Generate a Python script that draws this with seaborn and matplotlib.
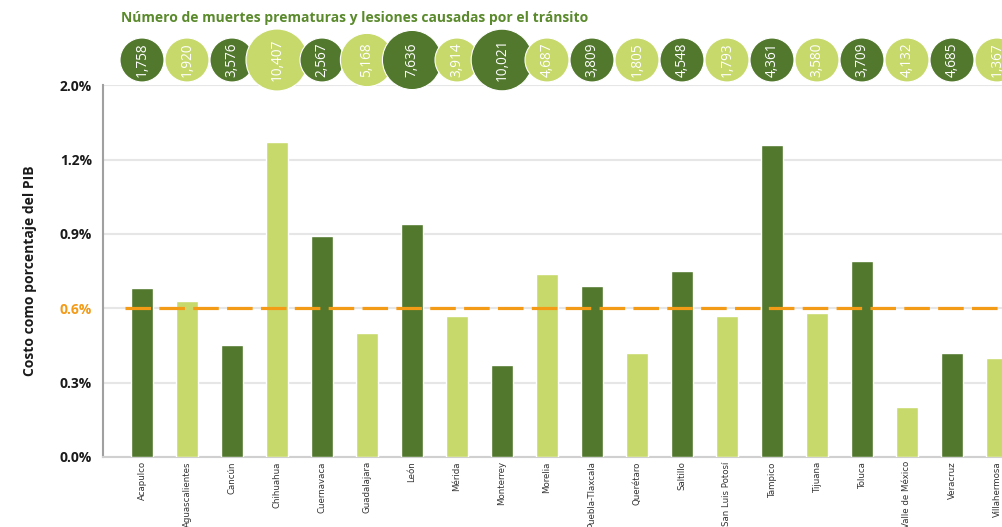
import numpy as np
import pandas as pd
import matplotlib
matplotlib.use("Agg")
import matplotlib.pyplot as plt
import matplotlib.colors as mcolors
from matplotlib.ticker import FixedLocator, FuncFormatter
import seaborn as sns

# ---------------- data ----------------
cities = ["Acapulco", "Aguascalientes", "Cancún", "Chihuahua", "Cuernavaca",
          "Guadalajara", "León", "Mérida", "Monterrey", "Morelia",
          "Puebla-Tlaxcala", "Querétaro", "Saltillo", "San Luis Potosí",
          "Tampico", "Tijuana", "Toluca", "Valle de México", "Veracruz",
          "Villahermosa"]
costo_pib = [0.68, 0.63, 0.45, 1.27, 0.89, 0.50, 0.94, 0.57, 0.37, 0.74,
             0.69, 0.42, 0.75, 0.57, 1.26, 0.58, 0.79, 0.20, 0.42, 0.40]
victimas = [1758, 1920, 3576, 10407, 2567, 5168, 7636, 3914, 10021, 4687,
            3809, 1805, 4548, 1793, 4361, 3580, 3709, 4132, 4685, 1367]
promedio = 0.6
y_ticks = [0.0, 0.3, 0.6, 0.9, 1.2, 2.0]
title = "Número de muertes prematuras y lesiones causadas por el tránsito"
ylabel = "Costo como porcentaje del PIB"

# ---------------- style ----------------
DARK = "#52782d"
LIGHT = "#c8d96c"
ORANGE = "#f39a16"
palette = [DARK if i % 2 == 0 else LIGHT for i in range(len(cities))]

sns.set_style("white")
plt.rcParams["font.family"] = ["Open Sans", "DejaVu Sans"]

W, H = 1003, 527
fig = plt.figure(figsize=(W / 100, H / 100), dpi=100)

# axes geometry (pixels)
left_px, bottom_px, top_px = 103, 457, 85.3
cat0_px, step_px = 142, 45.0
xmin = -(cat0_px - left_px) / step_px
xmax = 19.6
right_px = cat0_px + step_px * xmax
ax = fig.add_axes([left_px / W, 1 - bottom_px / H,
                   (right_px - left_px) / W, (bottom_px - top_px) / H])

df = pd.DataFrame({"ciudad": cities, "costo": costo_pib, "victimas": victimas})

sns.barplot(data=df, x="ciudad", y="costo", hue="ciudad", palette=palette,
            legend=False, width=0.49, saturation=1, ax=ax, zorder=3)

# axis linear up to 1.3, compressed above (top tick 2.0%)
BRK, FAC = 1.3, 0.2 / 0.7

def fwd(y):
    y = np.asarray(y, dtype=float)
    return np.where(y <= BRK, y, BRK + (y - BRK) * FAC)

def inv(t):
    t = np.asarray(t, dtype=float)
    return np.where(t <= BRK, t, BRK + (t - BRK) / FAC)

ax.set_yscale("function", functions=(fwd, inv))
ax.set_ylim(0, 2.0)
ax.set_xlim(xmin, xmax)
ax.yaxis.set_major_locator(FixedLocator(y_ticks))
ax.yaxis.set_minor_locator(FixedLocator([]))
ax.yaxis.set_major_formatter(FuncFormatter(lambda v, p: f"{v:.1f}%"))

ax.grid(axis="y", color="#e6e6e6", linewidth=1.5, zorder=0)
ax.set_axisbelow(True)
ax.tick_params(axis="y", direction="in", length=15.8, width=1.5, color="#a0a0a0",
               pad=8, labelsize=10, labelcolor="#1a1a1a")
for lab in ax.get_yticklabels():
    lab.set_fontweight("bold")
ax.get_yticklabels()[2].set_color(ORANGE)

ax.tick_params(axis="x", length=0, pad=3, labelsize=6.2, labelcolor="#333333")
ax.set_xticks(range(len(cities)))
ax.set_xticklabels(cities, rotation=90, va="top", ha="center",
                   family="DejaVu Sans")

for s in ["top", "right"]:
    ax.spines[s].set_visible(False)
ax.spines["left"].set_color("#a0a0a0")
ax.spines["left"].set_linewidth(1.5)
ax.spines["bottom"].set_color("#d0d0d0")
ax.spines["bottom"].set_linewidth(1.5)

ax.set_xlabel("")
ax.set_ylabel(ylabel, fontsize=10, fontweight="bold", color="#1a1a1a", labelpad=16)

ax_w_px = right_px - left_px
ax.axhline(promedio, xmin=(125 - left_px) / ax_w_px, xmax=1, color=ORANGE,
           linewidth=2.3, dashes=(8, 2.6), zorder=4)

# ---------------- bubbles ----------------
bub_top, bub_bot = 25, 95
axb = fig.add_axes([left_px / W, 1 - bub_bot / H, ax_w_px / W, (bub_bot - bub_top) / H])
df["pos"] = np.arange(len(cities))
df["yb"] = 0.5
size_norm = mcolors.PowerNorm(gamma=0.3, vmin=4700, vmax=10407, clip=True)
smin = (44 * 0.72) ** 2
smax = (62 * 0.72) ** 2
sns.scatterplot(data=df, x="pos", y="yb", hue="ciudad", palette=palette,
                size="victimas", sizes=(smin, smax), size_norm=size_norm,
                legend=False, edgecolor="white", linewidth=0.8, ax=axb,
                clip_on=False)
for i, v in enumerate(victimas):
    axb.text(i, 0.5, f"{v:,}", rotation=90, ha="center", va="center",
             color="white", fontsize=9.8, zorder=5)
axb.set_xlim(xmin, xmax)
axb.set_ylim(0, 1)
axb.axis("off")

fig.text(354.5 / W, 1 - 18 / H, title, ha="center", va="center",
         fontsize=10, fontweight="bold", color="#5a8a2c")

fig.savefig("out.png", dpi=100)
